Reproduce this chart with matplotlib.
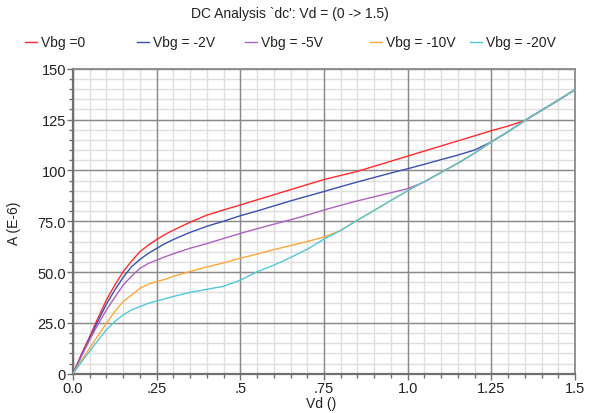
import numpy as np
import matplotlib
matplotlib.use("Agg")
import matplotlib.pyplot as plt
from matplotlib.lines import Line2D
from matplotlib.ticker import MultipleLocator

plt.rcParams["font.family"] = ["Liberation Sans", "DejaVu Sans"]

# Vd sweep points
vd = [0, 0.025, 0.05, 0.075, 0.1, 0.125, 0.15, 0.175, 0.2, 0.225, 0.25,
      0.275, 0.3, 0.35, 0.4, 0.45, 0.5,
      0.55, 0.6, 0.65, 0.7, 0.75, 0.8, 0.85, 0.9, 0.95, 1.0,
      1.05, 1.1, 1.15, 1.2, 1.25, 1.3, 1.35, 1.4, 1.45, 1.5]

# currents in A (E-6), one list per back-gate bias
i_vbg0 = [0, 9.5, 18.3, 27.5, 36.3, 43.6, 50.2, 55.4, 60, 63.2, 66,
          68.5, 70.6, 74.5, 78, 80.5, 83,
          85.5, 88, 90.5, 93, 95.5, 97.5, 99.5, 102, 104.5, 107,
          109.5, 112, 114.5, 117, 119.5, 121.8, 124.5, 129.5, 134.5, 139.7]
i_vbg2 = [0, 9, 17.5, 26, 34.3, 41.2, 47.4, 52.6, 56.2, 59.2, 61.6,
          64, 66, 69.5, 72.5, 75, 77.7,
          80, 82.5, 85, 87.3, 89.6, 92, 94.3, 96.5, 98.7, 100.8,
          103, 105.3, 107.5, 110, 114, 119, 124.5, 129.5, 134.5, 139.7]
i_vbg5 = [0, 8.5, 16.7, 24.3, 31.4, 37.6, 43.6, 48, 51.8, 54.2, 55.9,
          57.5, 59, 61.7, 64, 66.5, 69,
          71.3, 73.5, 75.7, 78, 80.5, 82.8, 85, 87, 89, 91,
          94.3, 99, 103.5, 108.5, 114, 119, 124.5, 129.5, 134.5, 139.7]
i_vbg10 = [0, 6.5, 12.6, 18.8, 24.8, 30.6, 35.5, 38.7, 42, 44, 45.3,
           46.4, 47.9, 50.3, 52.5, 54.5, 56.8,
           58.8, 61, 63, 65, 67.2, 70.5, 75.5, 80.3, 85.2, 90,
           94.5, 99, 103.5, 108.5, 114, 119, 124.5, 129.5, 134.5, 139.7]
i_vbg20 = [0, 5.7, 11, 16.5, 21.6, 25.7, 28.9, 31.4, 33, 34.6, 35.8,
           36.8, 38, 40, 41.5, 43, 46,
           50.1, 53.4, 57.1, 61.2, 66.2, 70.5, 75.5, 80.3, 85.2, 90,
           94.5, 99, 103.5, 108.5, 114, 119, 124.5, 129.5, 134.5, 139.7]

labels = ["Vbg =0", "Vbg = -2V", "Vbg = -5V", "Vbg = -10V", "Vbg = -20V"]
colors = ["#ff2a2a", "#3a50b0", "#b060c0", "#ffa53a", "#50c8d8"]

fig = plt.figure(figsize=(5.93, 4.14), dpi=100)
ax = fig.add_axes([73 / 593, 1 - 374.7 / 414, 502 / 593, 305 / 414])

series = [i_vbg0, i_vbg2, i_vbg5, i_vbg10, i_vbg20]
for ys, c in zip(series, colors):
    ax.plot(vd, ys, color=c, lw=1.0, zorder=3)

ax.set_xlim(0, 1.5)
ax.set_ylim(0, 150)

ax.xaxis.set_minor_locator(MultipleLocator(0.05))
ax.yaxis.set_minor_locator(MultipleLocator(5))

ax.set_xticks([0, 0.25, 0.5, 0.75, 1.0, 1.25, 1.5])
ax.set_xticklabels(["0.0", ".25", ".5", ".75", "1.0", "1.25", "1.5"])
ax.set_yticks([0, 25, 50, 75, 100, 125, 150])
ax.set_yticklabels(["0", "25.0", "50.0", "75.0", "100", "125", "150"])

# minor grid drawn underneath so it does not cut through the major lines
for xm in np.arange(0.05, 1.5, 0.05):
    ax.axvline(xm, color="#dedede", lw=1.0, zorder=0.1)
for ym in np.arange(5, 150, 5):
    ax.axhline(ym, color="#dedede", lw=1.0, zorder=0.1)
ax.set_axisbelow(True)
ax.grid(which="major", color="#8a8a8a", lw=1.0)

ax.tick_params(which="major", length=4, width=1, color="#707070",
               labelsize=10.5, pad=1, labelcolor="#222222")
ax.tick_params(which="minor", length=3, width=1, color="#707070")

for side in ["left", "bottom"]:
    ax.spines[side].set_color("#707070")
    ax.spines[side].set_linewidth(1.6)
for side in ["top", "right"]:
    ax.spines[side].set_color("#8a8a8a")
    ax.spines[side].set_linewidth(1.3)

fig.text(290 / 593, 1 - 14 / 414, "DC Analysis `dc': Vd = (0 -> 1.5)",
         ha="center", va="center", fontsize=10, color="#222222")

fig.text(14 / 593, 1 - 223 / 414, "A (E-6)", rotation=90,
         ha="center", va="center", fontsize=10, color="#222222")
fig.text(306 / 593, 1 - 404 / 414, "Vd ()",
         ha="left", va="center", fontsize=10, color="#222222")

# legend row
leg_x = [25, 137, 245, 370, 470]
leg_y = 1 - 43 / 414
for x0, lab, c in zip(leg_x, labels, colors):
    fig.add_artist(Line2D([x0 / 593, (x0 + 12) / 593], [leg_y, leg_y],
                          color=c, lw=1.0, transform=fig.transFigure))
    fig.text((x0 + 16) / 593, leg_y, lab, ha="left", va="center",
             fontsize=10, color="#222222")

fig.savefig("out.png", dpi=100)
